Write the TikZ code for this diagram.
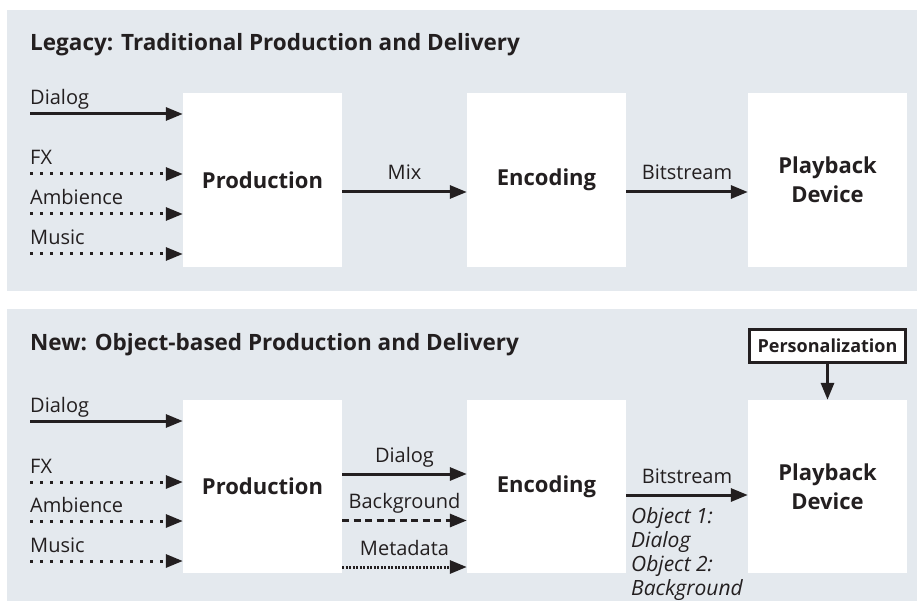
\documentclass[tikz,border=0pt]{standalone}
\usepackage{fontspec}
\setmainfont{Open Sans}
\usetikzlibrary{arrows.meta}

\definecolor{panelgray}{HTML}{E4E9EE}
\definecolor{inkblack}{HTML}{231F20}

\tikzset{
  title/.style={anchor=base west, inner sep=0pt, text=inkblack, font=\fontsize{22.5}{27}\selectfont\bfseries},
  box/.style={fill=white, minimum width=159pt, inner sep=0pt, align=center, text=inkblack,
    font=\fontsize{22}{28.5}\selectfont\bfseries},
  lbl/.style={anchor=base west, inner sep=0pt, text=inkblack, font=\fontsize{20}{24}\selectfont},
  midlbl/.style={midway, anchor=base, inner sep=0pt, yshift=12pt, text=inkblack, font=\fontsize{20}{24}\selectfont},
  flow/.style={draw=inkblack, line width=3pt, -{Triangle[length=17pt,width=13pt]}},
  dotflow/.style={flow, dash pattern=on 3pt off 7pt},
  dashflow/.style={flow, dash pattern=on 7pt off 4.5pt},
  fineflow/.style={flow, dash pattern=on 2pt off 1.5pt},
}

\begin{document}
\begin{tikzpicture}[x=1pt, y=-1pt]
  \useasboundingbox (0,0) rectangle (917,601);

  % legacy chain
  \fill[panelgray] (7,10) rectangle (917,291);
  \node[title] (title1) at (30,51) {Legacy: Traditional Production and Delivery};

  \node[box, minimum height=174pt] (prod1) at (262.5,180) {Production};
  \node[box, minimum height=174pt] (enc1) at (546.5,180) {Encoding};
  \node[box, minimum height=174pt] (play1) at (827.5,180) {Playback\\Device};

  \foreach \name/\yy/\sty in {Dialog/114/flow, FX/174/dotflow, Ambience/214/dotflow, Music/254/dotflow} {
    \coordinate (src1-\name) at (30,\yy);
    \node[lbl] (lab1-\name) at (30,\yy-9) {\name};
    \draw[\sty] (src1-\name) -- (prod1.west |- src1-\name);
  }

  \draw[flow] ([yshift=-12pt]prod1.east) -- ([yshift=-12pt]enc1.west) node[midlbl] (mix1) {Mix};
  \draw[flow] ([yshift=-12pt]enc1.east) -- ([yshift=-12pt]play1.west) node[midlbl] (bits1) {Bitstream};

  % object-based chain
  \fill[panelgray] (7,309) rectangle (917,601);
  \node[title] (title2) at (30,350) {New: Object-based Production and Delivery};

  \node[box, minimum height=173pt] (prod2) at (262.5,486.5) {Production};
  \node[box, minimum height=173pt] (enc2) at (546.5,486.5) {Encoding};
  \node[box, minimum height=173pt] (play2) at (827.5,486.5) {Playback\\Device};

  \foreach \name/\yy/\sty in {Dialog/421/flow, FX/482/dotflow, Ambience/521/dotflow, Music/561/dotflow} {
    \coordinate (src2-\name) at (30,\yy);
    \node[lbl] (lab2-\name) at (30,\yy-9) {\name};
    \draw[\sty] (src2-\name) -- (prod2.west |- src2-\name);
  }

  \draw[flow] ([yshift=12.5pt]prod2.east) -- ([yshift=12.5pt]enc2.west) node[midlbl] (obj2-dialog) {Dialog};
  \draw[dashflow] ([yshift=-34pt]prod2.east) -- ([yshift=-34pt]enc2.west) node[midlbl] (obj2-bg) {Background};
  \draw[fineflow] ([yshift=-80.5pt]prod2.east) -- ([yshift=-80.5pt]enc2.west) node[midlbl] (obj2-meta) {Metadata};

  \draw[flow] ([yshift=-8.5pt]enc2.east) -- ([yshift=-8.5pt]play2.west) node[midlbl] (bits2) {Bitstream};
  \node[anchor=base west, inner sep=0pt, align=left, text=inkblack, font=\fontsize{21}{23.7}\selectfont\itshape]
    (objlist) at (631,595) {Object 1:\\Dialog\\Object 2:\\Background};

  \node[draw=inkblack, line width=3pt, fill=white, minimum width=156pt, minimum height=33pt, inner sep=0pt,
    text=inkblack, font=\fontsize{18}{22}\selectfont\bfseries] (pers) at (827.5,346) {Personalization};
  \draw[flow] (pers) -- (play2);
\end{tikzpicture}
\end{document}
